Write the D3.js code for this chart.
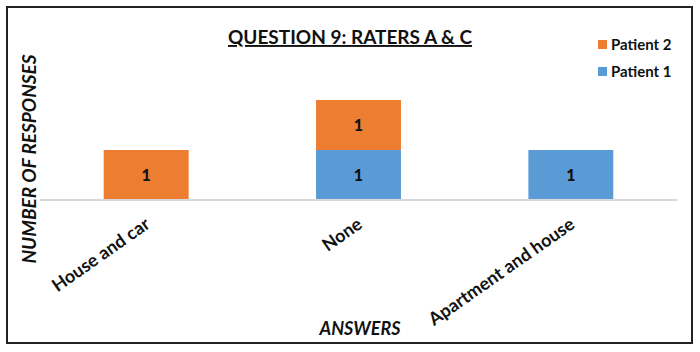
<!DOCTYPE html>
<html><head><meta charset="utf-8">
<script src="https://cdn.jsdelivr.net/npm/d3@7"></script>
<style>body{margin:0;background:#fff}svg{display:block}text{font-family:Lato,"Open Sans",sans-serif}</style>
</head><body>
<script>
const categories = ["House and car", "None", "Apartment and house"];
const patient1 = [0, 1, 1];
const patient2 = [1, 1, 0];
const seriesNames = ["Patient 1", "Patient 2"];
const colors = ["#5B9BD5", "#ED7D31"];

const W = 700, H = 352;
const svg = d3.select("body").append("svg").attr("width", W).attr("height", H);
svg.append("rect").attr("x", 7).attr("y", 7).attr("width", 685).attr("height", 336)
  .attr("fill", "#fff").attr("stroke", "#222").attr("stroke-width", 2);

const x = d3.scaleBand().domain(categories).range([40, 677]).paddingInner(0.6).paddingOuter(0.3);
const y = d3.scaleLinear().domain([0, 2]).range([200, 100]);

const rows = categories.map((c, i) => ({cat: c, "Patient 1": patient1[i], "Patient 2": patient2[i]}));
const stacked = d3.stack().keys(seriesNames)(rows);

const g = svg.append("g");
stacked.forEach((s, si) => {
  s.forEach((d, i) => {
    if (d[1] - d[0] <= 0) return;
    g.append("rect").attr("x", x(categories[i])).attr("width", x.bandwidth())
      .attr("y", y(d[1])).attr("height", y(d[0]) - y(d[1])).attr("fill", colors[si]);
    g.append("text").attr("x", x(categories[i]) + x.bandwidth() / 2)
      .attr("y", (y(d[0]) + y(d[1])) / 2).attr("dy", "0.36em")
      .attr("text-anchor", "middle").attr("font-weight", "900").attr("font-size", 16)
      .attr("fill", "#111").text(d[1] - d[0]);
  });
});

// baseline axis
const xAxis = d3.axisBottom(x).tickSize(0).tickPadding(0);
const ax = svg.append("g").attr("transform", `translate(0,${y(0)})`).call(xAxis);
ax.select(".domain").attr("stroke", "#D9D9D9").attr("stroke-width", 2)
  .attr("d", `M40,0H677`);
ax.selectAll(".tick text").attr("font-family", "Lato, 'Open Sans', sans-serif")
  .attr("font-size", 18).attr("font-weight", "bold").attr("fill", "#111")
  .attr("text-anchor", "end").attr("dy", null).attr("y", 0)
  .attr("transform", "translate(5,27) rotate(-35)");

// title
svg.append("text").attr("x", 350).attr("y", 44).attr("text-anchor", "middle")
  .attr("font-size", 19).attr("font-weight", "bold").attr("fill", "#111")
  .attr("text-decoration", "underline").text("QUESTION 9: RATERS A & C");

// legend
const legendItems = [{name: "Patient 2", color: colors[1]}, {name: "Patient 1", color: colors[0]}];
legendItems.forEach((it, i) => {
  const ly = 45 + i * 27;
  svg.append("rect").attr("x", 598).attr("y", ly - 5).attr("width", 9).attr("height", 9).attr("fill", it.color);
  svg.append("text").attr("x", 611).attr("y", ly).attr("dy", "0.35em")
    .attr("font-size", 15).attr("font-weight", "bold").attr("fill", "#111").text(it.name);
});

// axis titles
svg.append("text").attr("transform", "translate(36,159) rotate(-90)").attr("text-anchor", "middle")
  .attr("font-size", 19).attr("font-weight", "bold").attr("font-style", "italic").attr("fill", "#111")
  .text("NUMBER OF RESPONSES");
svg.append("text").attr("x", 360).attr("y", 335).attr("text-anchor", "middle")
  .attr("font-size", 18).attr("font-weight", "bold").attr("font-style", "italic").attr("fill", "#111")
  .text("ANSWERS");
</script>
</body></html>
